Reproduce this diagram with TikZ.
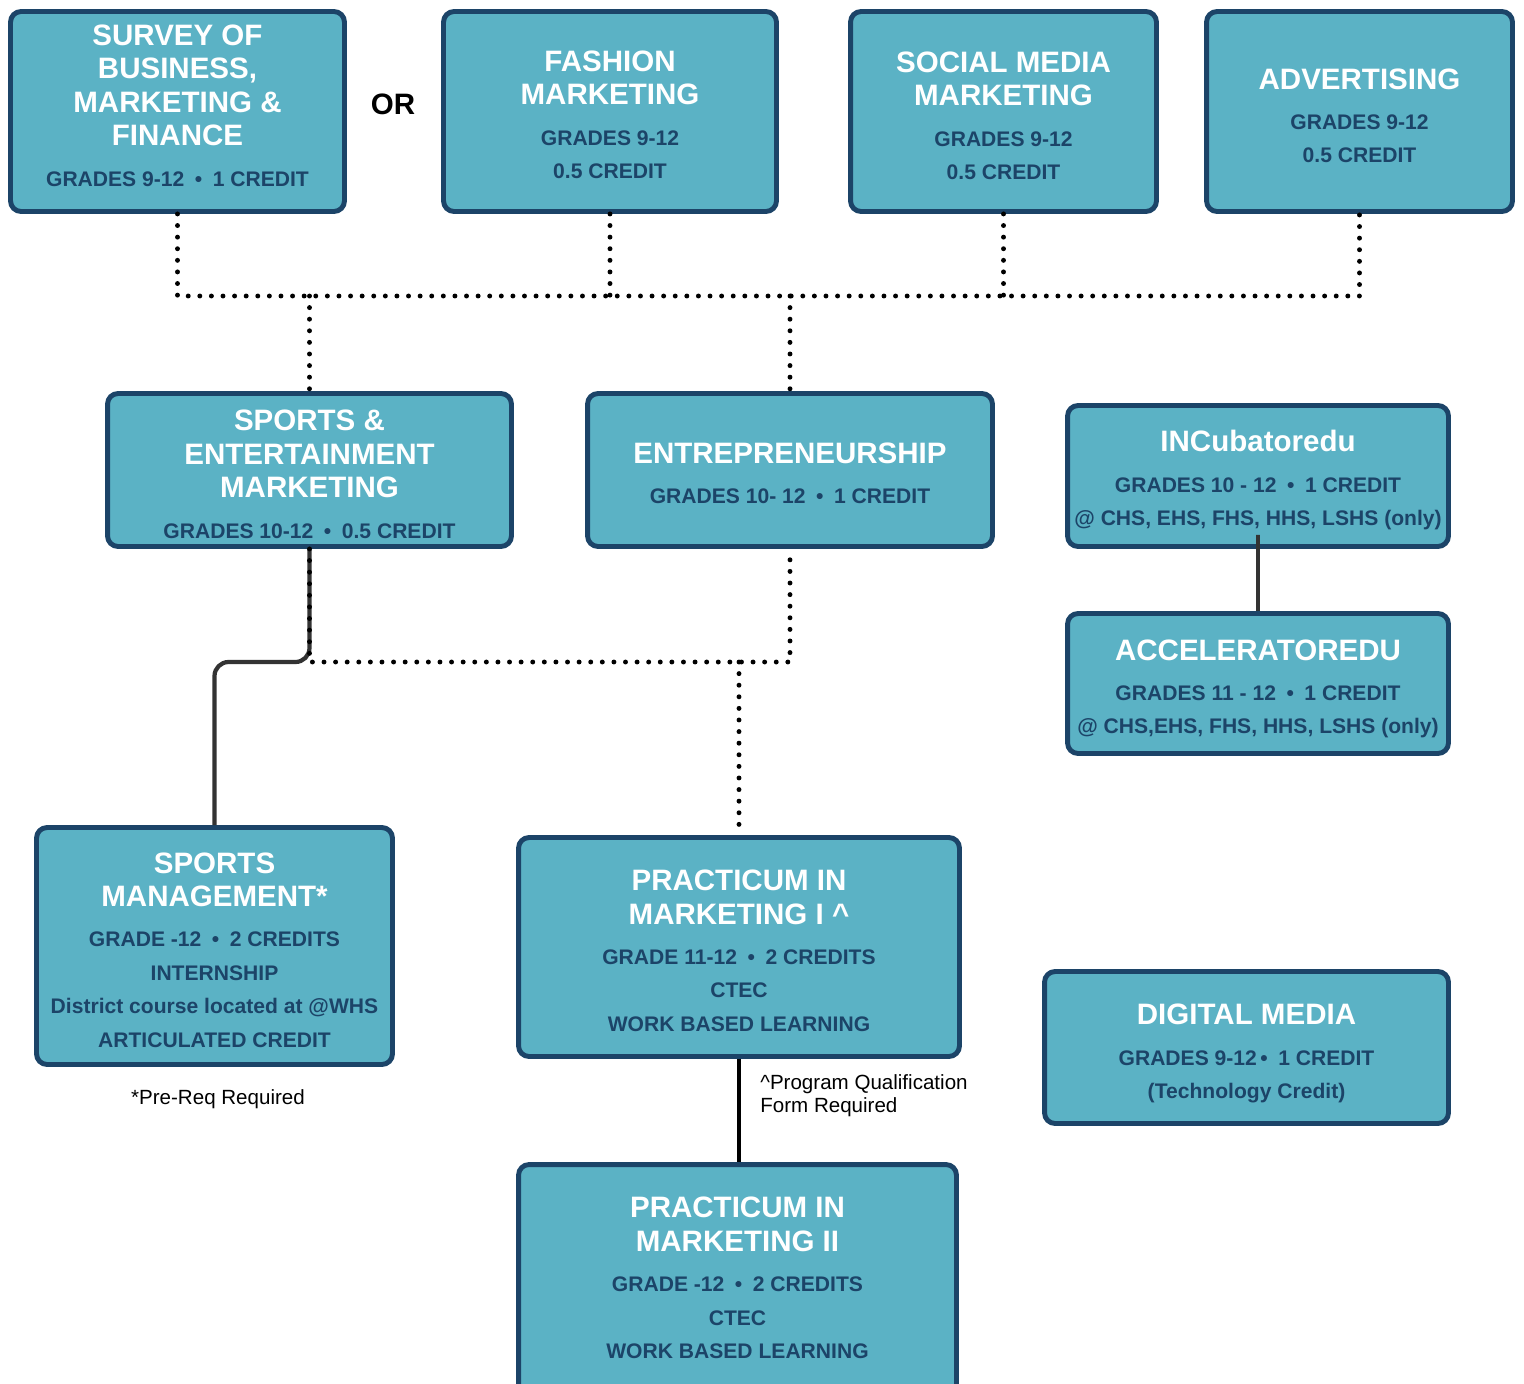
\documentclass[tikz,border=0pt]{standalone}
\usepackage{fontspec}
\setmainfont{Liberation Sans}

\definecolor{boxfill}{HTML}{5BB2C5}
\definecolor{boxline}{HTML}{1C4468}
\definecolor{linkgray}{HTML}{333333}

\newcommand{\ttl}{\fontsize{16.8}{19}\selectfont\bfseries\color{white}}
\newcommand{\subl}{\fontsize{12}{19}\selectfont\bfseries\color{boxline}}
\newcommand{\bul}{\enspace\textbullet\enspace}
\newcommand{\tstrut}[1]{\rule{0pt}{#1}}

\tikzset{
  course/.style={draw=boxline, fill=boxfill, line width=2.8pt, rounded corners=6pt,
    align=center, inner sep=0pt, font=\fontsize{12}{19}\selectfont},
  lift/.style={execute at end node={\rule[-#1]{0pt}{0pt}}},
  dotlink/.style={line width=2.8pt, line cap=round, dash pattern=on 0pt off 6.6pt},
  solidlink/.style={draw=linkgray, line width=2.4pt, rounded corners=8pt},
  note/.style={font=\fontsize{11.7}{13}\selectfont, inner sep=0pt},
}

\begin{document}
\begin{tikzpicture}[x=0.02cm, y=-0.02cm]
\useasboundingbox (0,0) rectangle (1524,1383);
\clip (0,0) rectangle (1524,1383);

% first row
\node[course, lift=6.8pt, minimum width=6.68cm, minimum height=4cm] (survey) at (177.5,111.5)
  {\ttl SURVEY OF\\\ttl BUSINESS,\\\ttl MARKETING \&\\\ttl FINANCE\\[4pt]\subl GRADES 9-12\bul 1 CREDIT};
\node[font=\fontsize{16.8}{19}\selectfont\bfseries] (orword) at (393,104) {OR};
\node[course, minimum width=6.66cm, minimum height=4cm] (fashion) at (610,111.5)
  {\tstrut{15.5pt}\ttl FASHION\\\ttl MARKETING\\[4pt]\subl GRADES 9-12\\\subl 0.5 CREDIT};
\node[course, minimum width=6.12cm, minimum height=4cm] (social) at (1003.5,111.5)
  {\tstrut{16.6pt}\ttl SOCIAL MEDIA\\\ttl MARKETING\\[4pt]\subl GRADES 9-12\\\subl 0.5 CREDIT};
\node[course, minimum width=6.12cm, minimum height=4cm] (advert) at (1359.5,111.5)
  {\tstrut{16.6pt}\ttl ADVERTISING\\[4pt]\subl GRADES 9-12\\\subl 0.5 CREDIT};

% second row
\node[course, minimum width=8.08cm, minimum height=3.06cm] (sportsent) at (309.5,470)
  {\tstrut{16.6pt}\ttl SPORTS \&\\\ttl ENTERTAINMENT\\\ttl MARKETING\\[4pt]\subl GRADES 10-12\bul 0.5 CREDIT};
\node[course, minimum width=8.1cm, minimum height=3.06cm] (entre) at (790,470)
  {\tstrut{15.5pt}\ttl ENTREPRENEURSHIP\\[4pt]\subl GRADES 10- 12\bul 1 CREDIT};
\node[course, minimum width=7.62cm, minimum height=2.82cm] (incub) at (1258,476)
  {\tstrut{16.8pt}\ttl INCubatoredu\\[4pt]\subl GRADES 10 - 12\bul 1 CREDIT\\\subl @ CHS, EHS, FHS, HHS, LSHS (only)};
\node[course, minimum width=7.62cm, minimum height=2.8cm] (accel) at (1258,683.5)
  {\tstrut{17.8pt}\ttl ACCELERATOREDU\\[4pt]\subl GRADES 11 - 12\bul 1 CREDIT\\\subl @ CHS,EHS, FHS, HHS, LSHS (only)};

% third row
\node[course, minimum width=7.12cm, minimum height=4.74cm] (sportsmgmt) at (214.5,946)
  {\tstrut{16.1pt}\ttl SPORTS\\\ttl MANAGEMENT*\\[4pt]\subl GRADE -12\bul 2 CREDITS\\\subl INTERNSHIP\\
   \subl District course located at @WHS\\\subl ARTICULATED CREDIT};
\node[note] (prereq) at (218,1099) {*Pre-Req Required};
\node[course, minimum width=8.82cm, minimum height=4.38cm] (pract1) at (739,947)
  {\tstrut{16.1pt}\ttl PRACTICUM IN\\\ttl MARKETING I \^{}\\[4pt]\subl GRADE 11-12\bul 2 CREDITS\\\subl CTEC\\\subl WORK BASED LEARNING};
\node[note, anchor=north west, align=left] (qualform) at (760,1074)
  {\textasciicircum Program Qualification\\Form Required};
\node[course, minimum width=8.08cm, minimum height=3.04cm] (digital) at (1246.5,1047.5)
  {\tstrut{18.9pt}\ttl DIGITAL MEDIA\\[4pt]\subl GRADES 9-12\,\textbullet\enspace 1 CREDIT\\\subl (Technology Credit)};
\node[course, lift=3.6pt, minimum width=8.76cm, minimum height=4.66cm] (pract2) at (737.5,1281)
  {\ttl PRACTICUM IN\\\ttl MARKETING II\\[4pt]\subl GRADE -12\bul 2 CREDITS\\\subl CTEC\\\subl WORK BASED LEARNING};

% links
\coordinate (bus) at (0,296);
\coordinate (join) at (0,662);
\draw[dotlink] (survey.south) -- (survey.south |- bus) -| (advert.south);
\draw[dotlink] (fashion.south) -- (fashion.south |- bus);
\draw[dotlink] (social.south) -- (social.south |- bus);
\draw[dotlink] (sportsent.north |- bus) -- (sportsent.north);
\draw[dotlink] (entre.north |- bus) -- (entre.north);
\draw[solidlink] (sportsent.south) -- (sportsent.south |- join) -| (sportsmgmt.north);
\draw[dotlink] (sportsent.south) -- (sportsent.south |- join) -| (entre.south);
\draw[dotlink] (pract1.north |- join) -- (pract1.north);
\draw[solidlink] (incub.south) -- (incub.south -| accel.north) -- (accel.north);
\draw[line width=2.8pt] (pract1.south) -- (pract1.south |- pract2.north);
\end{tikzpicture}
\end{document}
